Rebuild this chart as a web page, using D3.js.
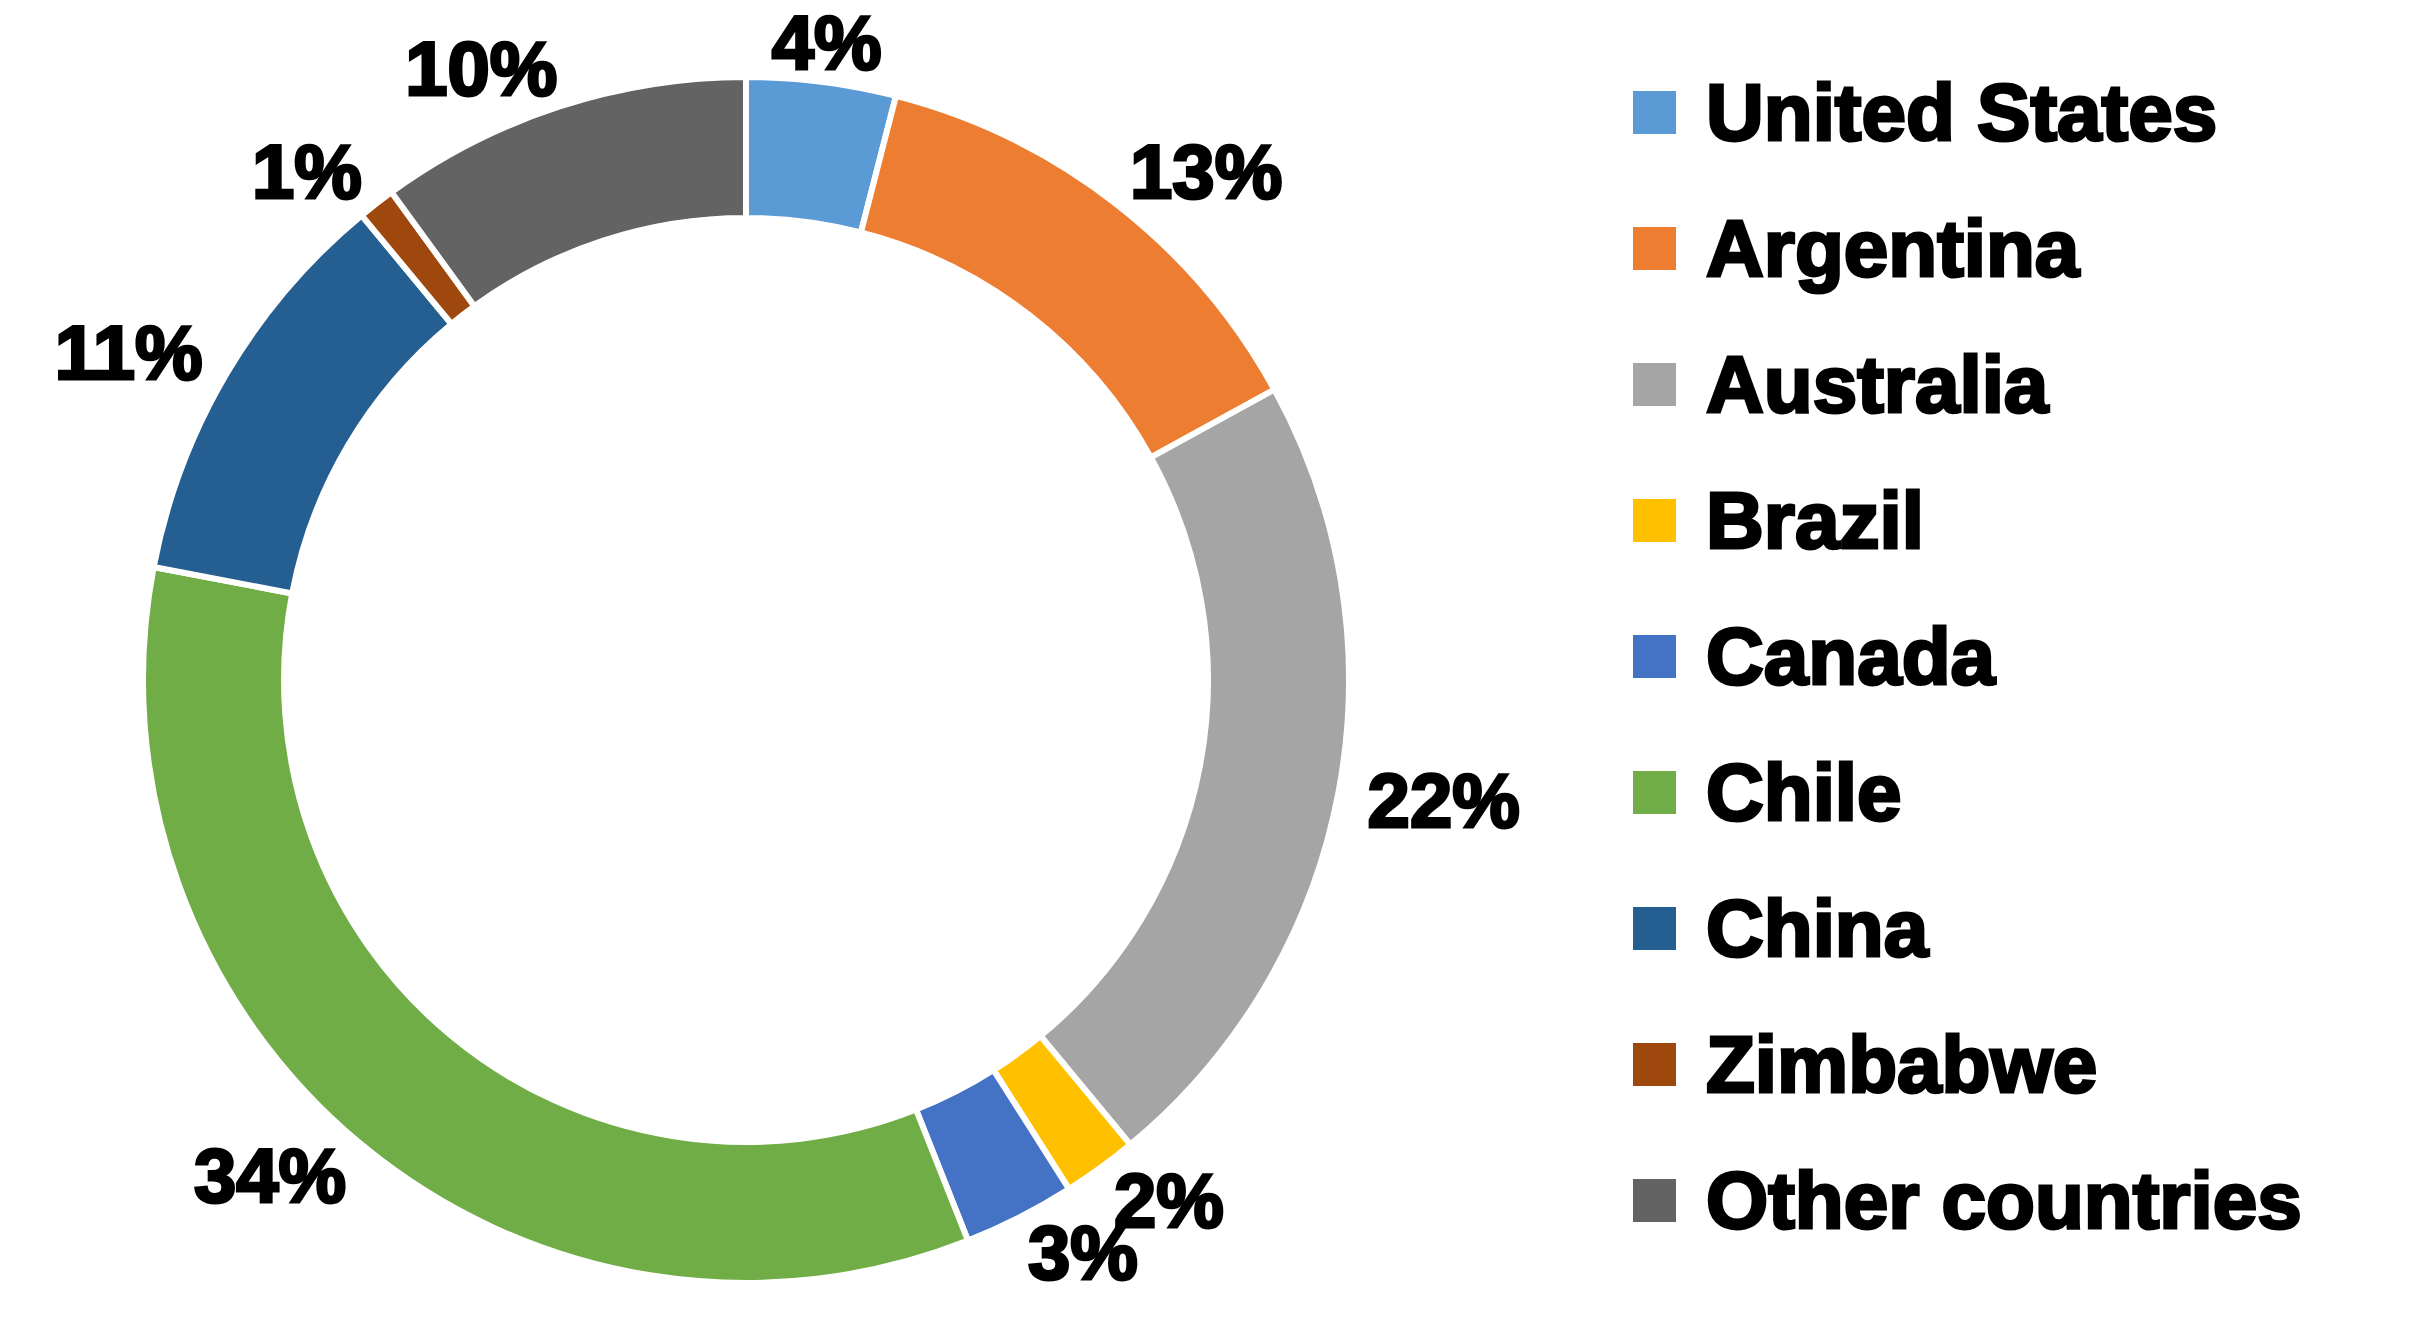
<!DOCTYPE html>
<html><head><meta charset="utf-8">
<script src="https://cdn.jsdelivr.net/npm/d3@7"></script>
<style>body{margin:0;background:#fff}text{font-family:"Liberation Sans",Arial,sans-serif;font-weight:bold;fill:#000;stroke:#000;stroke-width:3px}</style>
</head><body><svg id="c" width="2429" height="1328"></svg>
<script>
const categories=["United States","Argentina","Australia","Brazil","Canada","Chile","China","Zimbabwe","Other countries"];
const values=[4,13,22,2,3,34,11,1,10];
const colors=["#5b9bd5","#ed7d31","#a5a5a5","#ffc000","#4472c4","#70ad47","#255e91","#9e480e","#636363"];
const svg=d3.select("#c");
const cx=746,cy=680,ro=603,ri=462;
const g=svg.append("g").attr("transform",`translate(${cx},${cy})`);
const pie=d3.pie().sort(null).value(d=>d)(values);
const arc=d3.arc().innerRadius(ri).outerRadius(ro);
g.selectAll("path").data(pie).join("path").attr("d",arc)
 .attr("fill",(d,i)=>colors[i]).attr("stroke","#fff").attr("stroke-width",6);
const la=d3.arc().innerRadius(ro+40).outerRadius(ro+40);
g.selectAll("text.l").data(pie).join("text").attr("class","l")
 .attr("x",d=>la.centroid(d)[0]).attr("y",d=>la.centroid(d)[1])
 .attr("text-anchor",d=>{const m=(d.startAngle+d.endAngle)/2;return Math.abs(Math.sin(m))<0.3?"middle":(Math.sin(m)>0?"start":"end");})
 .attr("dx",d=>{const m=(d.startAngle+d.endAngle)/2;return Math.sin(m)>0.3?-10:(Math.sin(m)<-0.3?10:0);})
 .attr("dominant-baseline","central").attr("font-size",76)
 .text(d=>d.data+"%");
const y=d3.scalePoint().domain(categories).range([112,1200]);
const lg=svg.append("g");
lg.selectAll("rect").data(categories).join("rect").attr("x",1633).attr("y",d=>y(d)-21)
 .attr("width",43).attr("height",43).attr("fill",(d,i)=>colors[i]);
lg.selectAll("text").data(categories).join("text").attr("x",1706).attr("y",d=>y(d))
 .attr("dominant-baseline","central").attr("font-size",80).text(d=>d);
</script></body></html>
